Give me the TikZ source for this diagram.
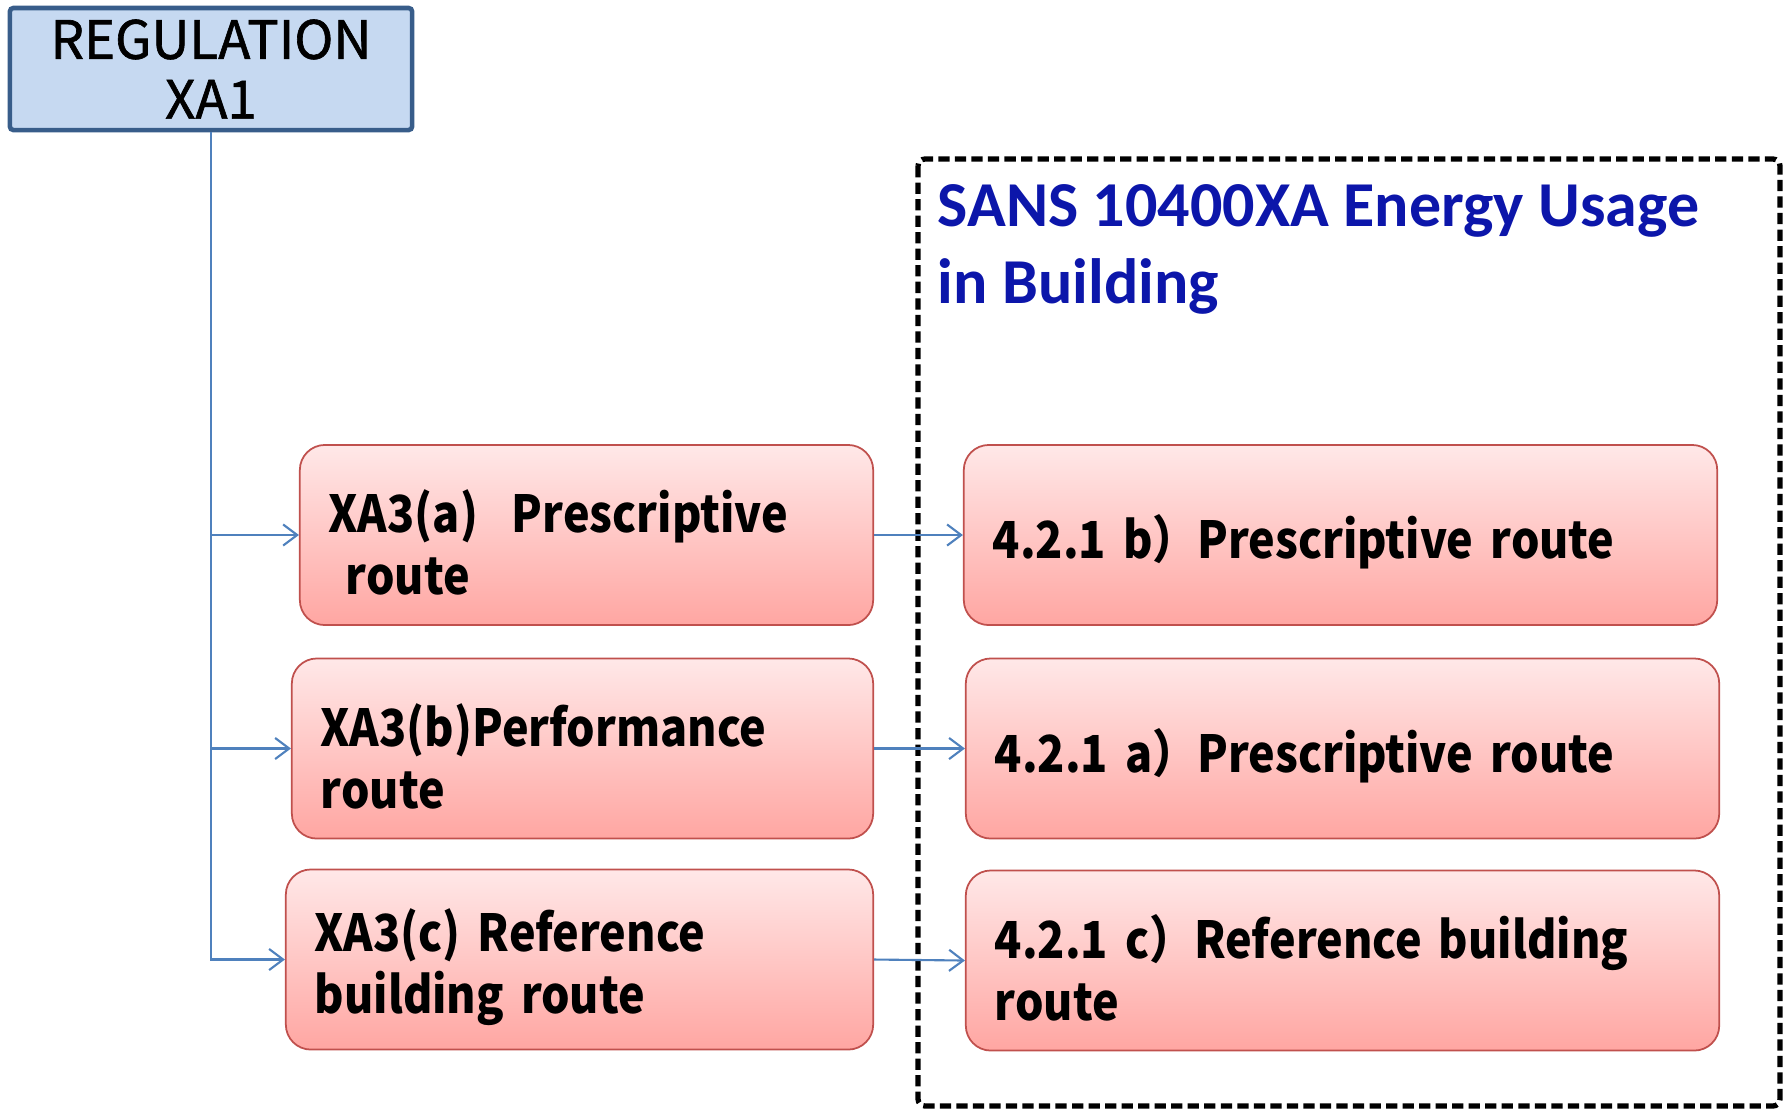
\documentclass[tikz,border=0pt]{standalone}
\usepackage{fontspec}
\setmainfont{Noto Sans CJK JP}[FakeStretch=0.88]
\newfontfamily\regfont{Noto Sans CJK JP}[FakeBold=1.2]
\newfontfamily\titlefont{Carlito}
\usetikzlibrary{arrows.meta}

\definecolor{regfill}{RGB}{198,217,241}
\definecolor{regline}{RGB}{56,93,138}
\definecolor{routeline}{RGB}{192,80,77}
\definecolor{routetop}{RGB}{255,232,232}
\definecolor{routebot}{RGB}{255,166,162}
\definecolor{linkblue}{RGB}{79,129,189}
\definecolor{titleblue}{RGB}{12,22,170}

\tikzset{
  regbox/.style={draw=regline, line width=1.3pt, fill=regfill, rounded corners=1pt,
    minimum width=4.02cm, minimum height=1.22cm, align=center, inner sep=0pt,
    font=\regfont\fontsize{15}{17}\selectfont},
  routebox/.style={draw=routeline, line width=0.5pt, top color=routetop, bottom color=routebot,
    rounded corners=0.25cm, minimum height=1.8cm, inner xsep=0.29cm, align=left,
    font=\bfseries\fontsize{14.5}{17.6}\selectfont,
    execute at begin node={\rule{0pt}{16.5pt}}},
  link/.style={draw=linkblue, line width=0.6pt, -{Straight Barb[length=4pt,width=6pt]}},
  frame/.style={draw, line width=1.5pt, dash pattern=on 3.2pt off 1.5pt, rounded corners=2pt},
  titletext/.style={text=titleblue, inner sep=0pt, align=left,
    font=\titlefont\bfseries\fontsize{18.2}{21.7}\selectfont},
}

\begin{document}
\begin{tikzpicture}[x=0.01cm, y=-0.01cm]
    \useasboundingbox (0,0) rectangle (1789,1108);

    % Standard frame
    \draw[frame] (918,159) rectangle (1780,1106);
    \node[titletext, anchor=north west] (title) at (937,184) {SANS 10400XA Energy Usage\\in Building};

    % Regulation
    \node[regbox] (reg) at (211,69) {REGULATION\\XA1};

    % Routes
    \node[routebox, text width=5.15cm] (xa) at (586.5,535) {XA3(a)\ \ Prescriptive\\\ route};
    \node[routebox, text width=5.23cm] (xb) at (582.5,748.5) {XA3(b)Performance\\route};
    \node[routebox, text width=5.29cm] (xc) at (579.5,959.5) {XA3(c) Reference\\building route};

    \node[routebox, text width=6.95cm] (sa) at (1340.5,535) {4.2.1 b）Prescriptive route};
    \node[routebox, text width=6.95cm] (sb) at (1342.5,748.5) {4.2.1 a）Prescriptive route};
    \node[routebox, text width=6.95cm] (sc) at (1342.5,960.5) {4.2.1 c）Reference building\\route};

    % Links
    \draw[link] (reg.south) |- (xa.west);
    \draw[link] (reg.south) |- (xb.west);
    \draw[link] (reg.south) |- (xc.west);
    \draw[link] (xa.east) -- (sa.west);
    \draw[link] (xb.east) -- (sb.west);
    \draw[link] (xc.east) -- (sc.west);
\end{tikzpicture}
\end{document}
